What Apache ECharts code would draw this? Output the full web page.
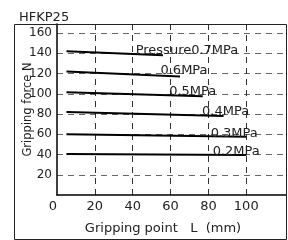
<!DOCTYPE html>
<html>
<head>
<meta charset="utf-8">
<script src="https://cdn.jsdelivr.net/npm/echarts@6/dist/echarts.min.js"></script>
<style>
  html, body { margin: 0; padding: 0; background: #fff; }
  #chart { width: 288px; height: 240px; }
</style>
</head>
<body>
<div id="chart"></div>
<script>
// gripping force vs gripping point, one line per pressure
const seriesNames = ['Pressure0.7MPa', '0.6MPa', '0.5MPa', '0.4MPa', '0.3MPa', '0.2MPa']
const line07 = [[5, 142], [56, 138]]
const line06 = [[5, 122], [65, 117]]
const line05 = [[5, 101.5], [77, 97.5]]
const line04 = [[5, 82], [88, 78]]
const line03 = [[5, 60], [100, 57.5]]
const line02 = [[5, 40.5], [100, 39.5]]
const xTicks = [0, 20, 40, 60, 80, 100]
const yTicks = [20, 40, 60, 80, 100, 120, 140, 160]

const lines = [line07, line06, line05, line04, line03, line02]
// label offset from the end of each line
const labelOffsets = [[24, 2], [4, 1], [-10, 2], [2, 2], [-12, 3], [-10, 3]]

const font = 'DejaVu Sans'
const chart = echarts.init(document.getElementById('chart'))

const series = lines.map((pts, i) => ({
  name: seriesNames[i],
  type: 'line',
  symbol: 'none',
  silent: true,
  lineStyle: { color: '#000', width: 2 },
  endLabel: {
    show: true,
    formatter: seriesNames[i],
    align: 'center',
    verticalAlign: 'bottom',
    distance: 0,
    offset: labelOffsets[i],
    color: '#222',
    fontFamily: font,
    fontSize: 13
  },
  data: pts
}))

chart.setOption({
  animation: false,
  title: {
    text: 'HFKP25',
    left: 14,
    top: 6,
    textStyle: { fontFamily: font, fontSize: 13, fontWeight: 'normal', color: '#222' }
  },
  graphic: [{
    type: 'rect',
    shape: { x: 14.5, y: 24.5, width: 272, height: 215 },
    style: { fill: null, stroke: '#222', lineWidth: 1 },
    z: 100
  }],
  grid: { left: 57, right: 2, top: 24, bottom: 38 },
  xAxis: {
    type: 'value',
    min: 0,
    max: 121,
    name: 'Gripping point   L  (mm)',
    nameLocation: 'middle',
    nameGap: 27,
    nameMoveOverlap: false,
    nameTextStyle: { fontFamily: font, fontSize: 13, color: '#222', padding: [0, 17, 0, 0] },
    axisLine: { show: true, lineStyle: { color: '#000', width: 1.5 } },
    axisTick: { show: false, customValues: [20, 40, 60, 80, 100] },
    axisLabel: {
      customValues: xTicks,
      margin: 5,
      alignMinLabel: 'right',
      fontFamily: font,
      fontSize: 13,
      color: '#222'
    },
    splitLine: { show: true, lineStyle: { color: '#333', type: [6, 5], width: 1 } }
  },
  yAxis: {
    type: 'value',
    min: 0,
    max: 169,
    name: 'Gripping force N',
    nameLocation: 'middle',
    nameGap: 23,
    nameMoveOverlap: false,
    nameTextStyle: { fontFamily: font, fontSize: 11.5, color: '#222' },
    axisLine: { show: true, lineStyle: { color: '#000', width: 1.5 } },
    axisTick: { show: false, customValues: yTicks },
    axisLabel: {
      customValues: yTicks,
      margin: 5,
      fontFamily: font,
      fontSize: 12,
      color: '#222'
    },
    splitLine: { show: true, lineStyle: { color: '#666', type: [6, 5], width: 1 } }
  },
  series: series
})
</script>
</body>
</html>
